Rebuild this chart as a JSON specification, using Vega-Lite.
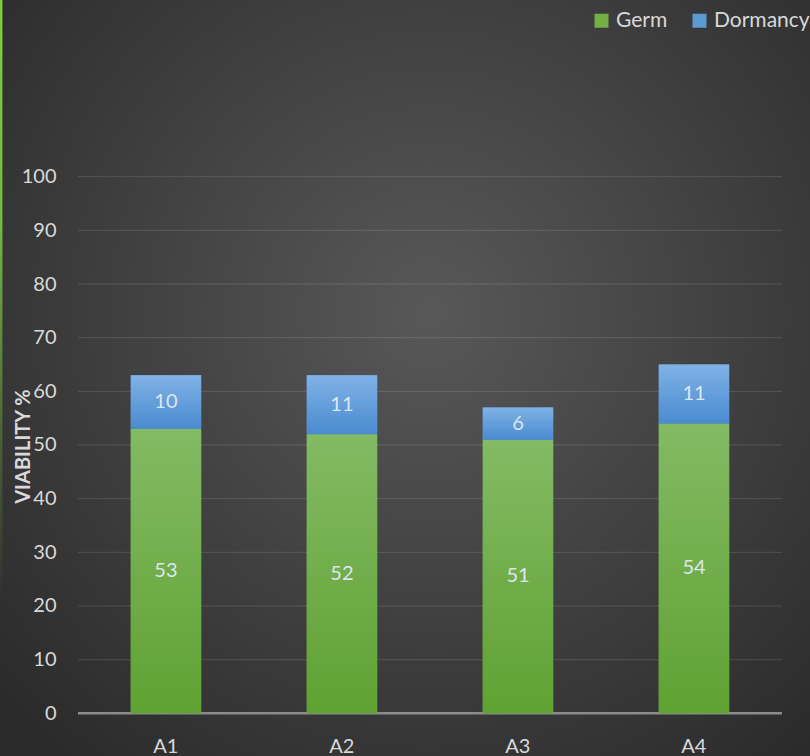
{
  "$schema": "https://vega.github.io/schema/vega-lite/v6.json",
  "width": 810,
  "height": 756,
  "autosize": {"type": "none"},
  "padding": 0,
  "background": "#2b2b2b",
  "config": {
    "view": {
      "stroke": null,
      "fill": {
        "gradient": "radial",
        "x1": 0.53, "y1": 0.42, "r1": 0,
        "x2": 0.53, "y2": 0.42, "r2": 0.72,
        "stops": [
          {"offset": 0, "color": "#585858"},
          {"offset": 1, "color": "#2a2a2a"}
        ]
      }
    },
    "font": "Lato",
    "text": {"font": "Lato"}
  },
  "datasets": {
    "bars": [
      {"cat": "A1", "series": "Germ", "value": 53},
      {"cat": "A1", "series": "Dormancy", "value": 10},
      {"cat": "A2", "series": "Germ", "value": 52},
      {"cat": "A2", "series": "Dormancy", "value": 11},
      {"cat": "A3", "series": "Germ", "value": 51},
      {"cat": "A3", "series": "Dormancy", "value": 6},
      {"cat": "A4", "series": "Germ", "value": 54},
      {"cat": "A4", "series": "Dormancy", "value": 11}
    ],
    "grid": [
      {"g": 10}, {"g": 20}, {"g": 30}, {"g": 40}, {"g": 50},
      {"g": 60}, {"g": 70}, {"g": 80}, {"g": 90}, {"g": 100}
    ]
  },
  "layer": [
    {
      "data": {"values": [{"edge": "left"}]},
      "mark": {
        "type": "rect",
        "fill": {"gradient": "linear", "x1": 0, "y1": 0, "x2": 0, "y2": 1,
                 "stops": [
                   {"offset": 0, "color": "rgba(128,206,64,1)"},
                   {"offset": 0.3, "color": "rgba(128,206,64,0.85)"},
                   {"offset": 0.6, "color": "rgba(128,206,64,0.25)"},
                   {"offset": 0.8, "color": "rgba(128,206,64,0)"}
                 ]}
      },
      "encoding": {
        "x": {"datum": "A1", "type": "nominal", "bandPosition": -1.858},
        "x2": {"datum": "A1", "bandPosition": -1.823},
        "y": {"datum": 132.93, "type": "quantitative"},
        "y2": {"datum": -7.96}
      }
    },
    {
      "data": {"name": "grid"},
      "mark": {"type": "rule", "stroke": "#ffffff", "strokeOpacity": 0.13, "strokeWidth": 1},
      "encoding": {
        "y": {"field": "g", "type": "quantitative"},
        "x": {"datum": "A1", "type": "nominal", "bandPosition": -0.75},
        "x2": {"datum": "A4", "bandPosition": 1.75}
      }
    },
    {
      "data": {"values": [{"axis": "zero"}]},
      "mark": {"type": "rule", "stroke": "#8c8c8c", "strokeWidth": 2.5},
      "encoding": {
        "y": {"datum": 0, "type": "quantitative"},
        "x": {"datum": "A1", "type": "nominal", "bandPosition": -0.75},
        "x2": {"datum": "A4", "bandPosition": 1.75}
      }
    },
    {
      "data": {"name": "bars"},
      "mark": {"type": "bar", "clip": false},
      "encoding": {
        "x": {
          "field": "cat",
          "type": "nominal",
          "scale": {"domain": ["A1", "A2", "A3", "A4"], "paddingInner": 0.6, "paddingOuter": 0.6011, "align": 0.618},
          "axis": {
            "title": null,
            "domain": false,
            "ticks": false,
            "tickSize": 0,
            "grid": false,
            "labelAngle": 0,
            "labelFont": "Lato",
            "labelFontSize": 20,
            "labelColor": "#d9d9d9",
            "labelBaseline": "middle",
            "labelPadding": 33,
            "labelOffset": 12.5,
            "offset": -43
          }
        },
        "y": {
          "field": "value",
          "type": "quantitative",
          "stack": "zero",
          "scale": {"domain": [-7.96, 132.93], "nice": false, "zero": false},
          "axis": {
            "values": [0, 10, 20, 30, 40, 50, 60, 70, 80, 90, 100],
            "grid": false,
            "domain": false,
            "ticks": false,
            "tickSize": 0,
            "offset": -70,
            "labelPadding": 14,
            "labelFont": "Lato",
            "labelFontSize": 20,
            "labelColor": "#d9d9d9",
            "title": "VIABILITY %",
            "titleFont": "Lato",
            "titleFontSize": 20,
            "titleFontWeight": "bold",
            "titleColor": "#d9d9d9",
            "titleX": -47,
            "titleY": 446,
            "titleAlign": "center",
            "titleBaseline": "middle",
            "titleAngle": -90
          }
        },
        "color": {
          "field": "series",
          "type": "nominal",
          "scale": {"domain": ["Germ", "Dormancy"], "range": ["#72b043", "#5b9bd5"]},
          "legend": {
            "title": null,
            "orient": "none",
            "legendX": 591,
            "legendY": 10,
            "direction": "horizontal",
            "symbolType": "square",
            "symbolSize": 196,
            "symbolStrokeWidth": 0,
            "symbolOpacity": 1,
            "labelFont": "Lato",
            "labelFontSize": 21,
            "labelColor": "#d9d9d9",
            "labelOffset": 4,
            "columnPadding": 21,
            "padding": 0
          }
        },
        "order": {"field": "series", "sort": "descending"}
      }
    },
    {
      "data": {"name": "bars"},
      "transform": [
        {"stack": "value", "groupby": ["cat"], "sort": [{"field": "series", "order": "descending"}], "as": ["v0", "v1"]},
        {"filter": "datum.series === 'Germ'"}
      ],
      "mark": {
        "type": "bar",
        "fill": {"gradient": "linear", "x1": 0, "y1": 0, "x2": 0, "y2": 1,
                 "stops": [{"offset": 0, "color": "#83ba64"}, {"offset": 1, "color": "#5fa232"}]}
      },
      "encoding": {
        "x": {"field": "cat", "type": "nominal"},
        "y": {"field": "v0", "type": "quantitative"},
        "y2": {"field": "v1"}
      }
    },
    {
      "data": {"name": "bars"},
      "transform": [
        {"stack": "value", "groupby": ["cat"], "sort": [{"field": "series", "order": "descending"}], "as": ["v0", "v1"]},
        {"filter": "datum.series === 'Dormancy'"}
      ],
      "mark": {
        "type": "bar",
        "fill": {"gradient": "linear", "x1": 0, "y1": 0, "x2": 0, "y2": 1,
                 "stops": [{"offset": 0, "color": "#80b2e6"}, {"offset": 1, "color": "#4a8bd0"}]}
      },
      "encoding": {
        "x": {"field": "cat", "type": "nominal"},
        "y": {"field": "v0", "type": "quantitative"},
        "y2": {"field": "v1"}
      }
    },
    {
      "data": {"name": "bars"},
      "mark": {"type": "text", "font": "Lato", "fontSize": 20, "color": "#dde6ee", "baseline": "middle"},
      "encoding": {
        "x": {"field": "cat", "type": "nominal"},
        "y": {"field": "value", "type": "quantitative", "stack": "zero", "bandPosition": 0.5},
        "text": {"field": "value", "type": "quantitative"},
        "order": {"field": "series", "sort": "descending"}
      }
    }
  ]
}
